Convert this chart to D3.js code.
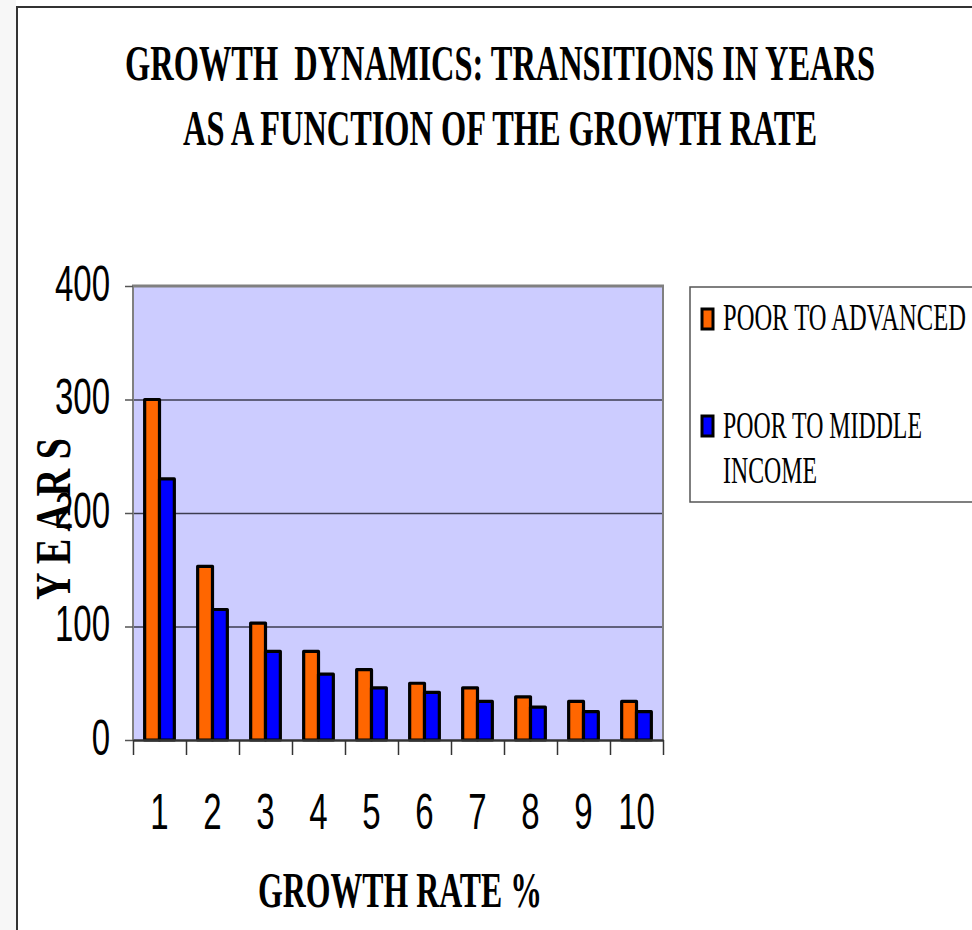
<!DOCTYPE html>
<html>
<head>
<meta charset="utf-8">
<script src="https://cdn.jsdelivr.net/npm/d3@7"></script>
<style>
  html, body { margin: 0; padding: 0; background: #fff; }
  svg { display: block; }
</style>
</head>
<body>
<script>
// Growth rate categories (% per year) and years needed for each transition
const growthRates = ["1", "2", "3", "4", "5", "6", "7", "8", "9", "10"];
const seriesNames = ["POOR TO ADVANCED", "POOR TO MIDDLE INCOME"];
const poorToAdvanced = [300, 153, 103, 78, 62, 50, 46, 38, 34, 34];
const poorToMiddle = [230, 115, 78, 58, 46, 42, 34, 29, 25, 25];
const yTicks = [0, 100, 200, 300, 400];
const titleLines = ["GROWTH  DYNAMICS: TRANSITIONS IN YEARS", "AS A FUNCTION OF THE GROWTH RATE"];
const xTitle = "GROWTH RATE %";
const yTitle = "Y E A R S";

const W = 972, H = 930;
const plot = { left: 133, right: 663, top: 286, bottom: 740 };
const colors = ["#FF6600", "#0000FF"];
const serif = "'Liberation Serif', 'Times New Roman', serif";
const sans = "'Liberation Sans', Arial, sans-serif";
const squeeze = 0.66;

const svg = d3.select("body").append("svg")
  .attr("width", W).attr("height", H);

// squeeze a text horizontally so it spans the given width
function fitWidth(sel, cx, cy, width, anchor, rotate) {
  sel.each(function () {
    const t = d3.select(this);
    const natural = this.getComputedTextLength();
    const k = width / natural;
    t.attr("x", 0).attr("y", 0).attr("text-anchor", anchor)
      .attr("transform", `translate(${cx},${cy})${rotate ? ` rotate(${rotate})` : ""} scale(${k},1)`);
  });
}

// faint margin strip and outer frame
svg.append("rect").attr("x", 0).attr("y", 0).attr("width", 16).attr("height", H)
  .attr("fill", "#f7f7f7");
svg.append("rect").attr("x", 17).attr("y", 7).attr("width", W + 20).attr("height", H + 20)
  .attr("fill", "#fff").attr("stroke", "#333").attr("stroke-width", 2);

// title
const titleWidths = [750, 634];
svg.selectAll("text.title").data(titleLines).join("text")
  .attr("class", "title")
  .style("white-space", "pre")
  .attr("font-family", serif).attr("font-weight", "bold").attr("font-size", 50)
  .text(d => d)
  .each(function (d, i) { fitWidth(d3.select(this), 500, 80 + i * 65, titleWidths[i], "middle"); });

// scales
const x = d3.scaleBand().domain(growthRates).range([plot.left, plot.right]).padding(0);
const xEdges = d3.scaleLinear().domain([0, growthRates.length]).range([plot.left, plot.right]);
const bw = x.bandwidth();
const x1 = d3.scaleBand().domain([0, 1]).range([bw * 0.22, bw * 0.78]).padding(0);
const y = d3.scaleLinear().domain([0, 400]).range([plot.bottom, plot.top]);

// plot background
svg.append("rect")
  .attr("x", plot.left).attr("y", plot.top)
  .attr("width", plot.right - plot.left).attr("height", plot.bottom - plot.top)
  .attr("fill", "#CCCCFF");

// gridlines
const grid = svg.append("g")
  .attr("transform", `translate(${plot.left},0)`)
  .call(d3.axisLeft(y).tickValues([100, 200, 300]).tickSize(-(plot.right - plot.left)).tickFormat(""));
grid.select(".domain").remove();
grid.selectAll("line").attr("stroke", "#3c3c50").attr("stroke-width", 1.3);

// plot frame
svg.append("line").attr("x1", plot.left).attr("x2", plot.left).attr("y1", plot.top).attr("y2", plot.bottom)
  .attr("stroke", "#808080").attr("stroke-width", 2);
svg.append("line").attr("x1", plot.right).attr("x2", plot.right).attr("y1", plot.top).attr("y2", plot.bottom)
  .attr("stroke", "#808080").attr("stroke-width", 2);
svg.append("line").attr("x1", plot.left - 1).attr("x2", plot.right + 1).attr("y1", plot.top).attr("y2", plot.top)
  .attr("stroke", "#808080").attr("stroke-width", 3);

// bars
const seriesData = [poorToAdvanced, poorToMiddle];
const groups = svg.append("g").selectAll("g").data(growthRates).join("g")
  .attr("transform", d => `translate(${x(d)},0)`);
groups.selectAll("rect").data((d, i) => seriesData.map((s, k) => ({ k, v: s[i] }))).join("rect")
  .attr("x", d => x1(d.k))
  .attr("width", x1.bandwidth())
  .attr("y", d => y(d.v))
  .attr("height", d => y(0) - y(d.v))
  .attr("fill", d => colors[d.k])
  .attr("stroke", "#000").attr("stroke-width", 3.2).attr("stroke-linejoin", "round");

// y axis
const yAxis = svg.append("g")
  .attr("transform", `translate(${plot.left},0)`)
  .call(d3.axisLeft(y).tickValues(yTicks).tickSize(8).tickSizeOuter(0));
yAxis.select(".domain").remove();
yAxis.selectAll("line").attr("stroke", "#555").attr("stroke-width", 1.5);
yAxis.selectAll("text")
  .attr("x", -23 / squeeze).attr("dy", 14)
  .attr("transform", `scale(${squeeze},1)`)
  .attr("font-family", sans).attr("font-size", 50).attr("fill", "#000");

// x axis: tick marks at category edges
const xTickAxis = svg.append("g")
  .attr("transform", `translate(0,${plot.bottom})`)
  .call(d3.axisBottom(xEdges).ticks(growthRates.length).tickSize(15).tickSizeOuter(0).tickFormat(""));
xTickAxis.select(".domain").attr("stroke", "#333").attr("stroke-width", 2.5);
xTickAxis.selectAll("line").attr("stroke", "#333").attr("stroke-width", 1.5);

// x axis: labels at category centres
const xAxis = svg.append("g")
  .attr("transform", `translate(0,${plot.bottom})`)
  .call(d3.axisBottom(x).tickSize(0));
xAxis.select(".domain").remove();
xAxis.selectAll("text")
  .attr("x", 0).attr("y", 89).attr("dy", 0)
  .attr("text-anchor", "middle")
  .attr("transform", `scale(${squeeze},1)`)
  .attr("font-family", sans).attr("font-size", 50).attr("fill", "#000");

// axis titles
svg.append("text")
  .attr("font-family", serif).attr("font-weight", "bold").attr("font-size", 50)
  .text(xTitle)
  .call(fitWidth, 400, 907, 284, "middle");

svg.append("text")
  .attr("font-family", serif).attr("font-weight", "bold").attr("font-size", 50)
  .text(yTitle)
  .call(fitWidth, 70, 519, 162, "middle", -90);

// legend
svg.append("rect").attr("x", 690).attr("y", 287).attr("width", 320).attr("height", 215)
  .attr("fill", "#fff").attr("stroke", "#555").attr("stroke-width", 1.5);

const legendRows = [
  { k: 0, lines: ["POOR TO ADVANCED"], widths: [243], top: 309, base: 330 },
  { k: 1, lines: ["POOR TO MIDDLE", "INCOME"], widths: [199, 94], top: 416, base: 438 }
];
const lg = svg.append("g").selectAll("g").data(legendRows).join("g");
lg.append("rect")
  .attr("x", 702).attr("y", d => d.top)
  .attr("width", 11).attr("height", 20)
  .attr("fill", d => colors[d.k])
  .attr("stroke", "#000").attr("stroke-width", 3);
lg.each(function (d) {
  d3.select(this).selectAll("text").data(d.lines.map((t, i) => ({ t, i, w: d.widths[i] }))).join("text")
    .attr("font-family", serif).attr("font-size", 37)
    .text(t => t.t)
    .each(function (t) { fitWidth(d3.select(this), 723, d.base + t.i * 45, t.w, "start"); });
});
</script>
</body>
</html>
